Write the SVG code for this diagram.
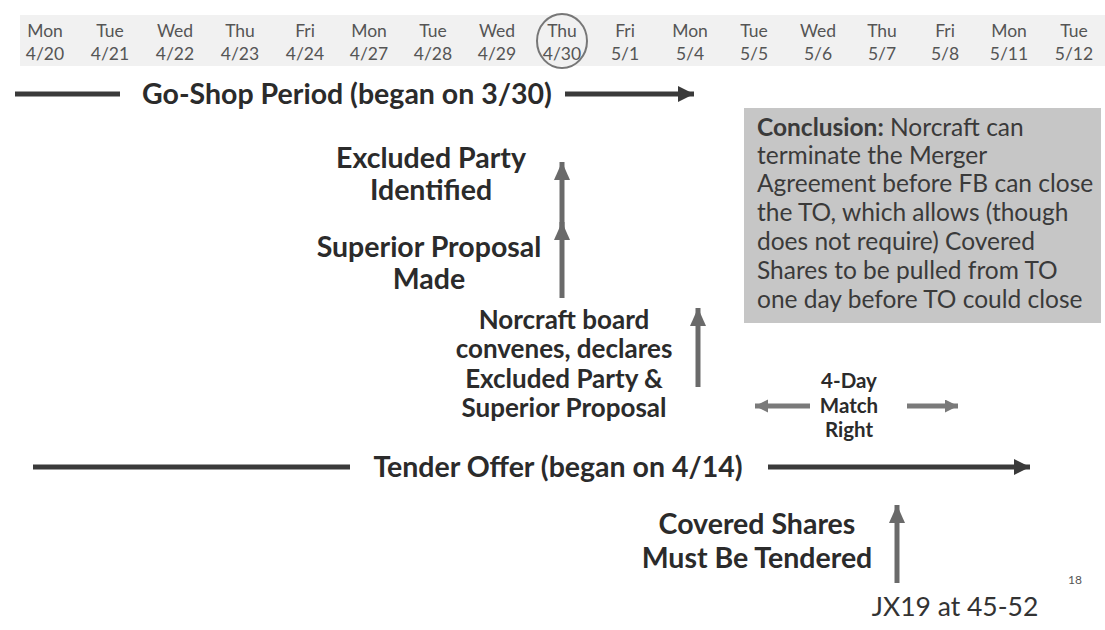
<svg xmlns="http://www.w3.org/2000/svg" width="1105" height="630" viewBox="0 0 1105 630">
<style>
.day{font-family:Lato,"Liberation Sans",sans-serif;font-size:17.5px;fill:#555;text-anchor:middle}
.lbl{font-family:Lato,"Liberation Sans",sans-serif;font-weight:bold;fill:#2b2b2b;text-anchor:middle}
.big{font-size:28.5px}
.mid{font-size:26px}
.sm{font-size:20.5px}
.concl{font-family:Lato,"Liberation Sans",sans-serif;font-size:24.5px;fill:#3a3a3a}
.tl{stroke:#3a3a3a;stroke-width:5;fill:none}
.va{stroke:#6a6a6a;stroke-width:5;fill:none}
.ha{stroke:#7a7a7a;stroke-width:5;fill:none}
</style>
<defs>
<marker id="hdDark" markerUnits="userSpaceOnUse" markerWidth="20" markerHeight="20" refX="16" refY="8" orient="auto"><path d="M0,0 L16,8 L0,16 Z" fill="#3a3a3a"/></marker>
<marker id="hdGray" markerUnits="userSpaceOnUse" markerWidth="20" markerHeight="20" refX="18" refY="8" orient="auto"><path d="M0,0 L18,8 L0,16 Z" fill="#6a6a6a"/></marker>
<marker id="hdLight" markerUnits="userSpaceOnUse" markerWidth="16" markerHeight="16" refX="13" refY="6.5" orient="auto"><path d="M0,0 L13,6.5 L0,13 Z" fill="#7a7a7a"/></marker>
</defs>
<rect width="1105" height="630" fill="#fff"/>
<g id="calendar">
<rect x="20" y="15" width="1085" height="51" fill="#f1f1f1"/>
<g class="day">
<text x="45" y="37">Mon</text><text x="45" y="60">4/20</text>
<text x="110" y="37">Tue</text><text x="110" y="60">4/21</text>
<text x="175" y="37">Wed</text><text x="175" y="60">4/22</text>
<text x="240" y="37">Thu</text><text x="240" y="60">4/23</text>
<text x="305" y="37">Fri</text><text x="305" y="60">4/24</text>
<text x="369" y="37">Mon</text><text x="369" y="60">4/27</text>
<text x="433" y="37">Tue</text><text x="433" y="60">4/28</text>
<text x="497" y="37">Wed</text><text x="497" y="60">4/29</text>
<text x="562" y="37">Thu</text><text x="562" y="60">4/30</text>
<text x="625" y="37">Fri</text><text x="625" y="60">5/1</text>
<text x="690" y="37">Mon</text><text x="690" y="60">5/4</text>
<text x="754" y="37">Tue</text><text x="754" y="60">5/5</text>
<text x="818" y="37">Wed</text><text x="818" y="60">5/6</text>
<text x="882" y="37">Thu</text><text x="882" y="60">5/7</text>
<text x="945" y="37">Fri</text><text x="945" y="60">5/8</text>
<text x="1009" y="37">Mon</text><text x="1009" y="60">5/11</text>
<text x="1074" y="37">Tue</text><text x="1074" y="60">5/12</text>
</g>
<ellipse cx="562" cy="41" rx="25" ry="27" fill="none" stroke="#777" stroke-width="2"/>
</g>
<g id="connectors">
<line class="tl" x1="15" y1="94" x2="120" y2="94"/>
<line class="tl" x1="565" y1="94" x2="694" y2="94" marker-end="url(#hdDark)"/>
<line class="tl" x1="33" y1="467" x2="350" y2="467"/>
<line class="tl" x1="768" y1="467" x2="1030" y2="467" marker-end="url(#hdDark)"/>
<line class="va" x1="562" y1="238" x2="562" y2="162" marker-end="url(#hdGray)"/>
<line class="va" x1="562" y1="298" x2="562" y2="222" marker-end="url(#hdGray)"/>
<line class="va" x1="698" y1="387" x2="698" y2="308" marker-end="url(#hdGray)"/>
<line class="va" x1="897" y1="583" x2="897" y2="505" marker-end="url(#hdGray)"/>
<line class="ha" x1="810" y1="406" x2="755" y2="406" marker-end="url(#hdLight)"/>
<line class="ha" x1="907" y1="406" x2="958" y2="406" marker-end="url(#hdLight)"/>
</g>
<g id="go-shop"><text class="lbl big" x="347" y="104">Go-Shop Period (began on 3/30)</text></g>
<g id="tender-offer"><text class="lbl big" x="558" y="477">Tender Offer (began on 4/14)</text></g>
<g id="excluded-party"><text class="lbl big" x="431" y="168">Excluded Party</text><text class="lbl big" x="431" y="200">Identified</text></g>
<g id="superior-proposal"><text class="lbl big" x="429" y="257">Superior Proposal</text><text class="lbl big" x="429" y="289">Made</text></g>
<g id="board"><text class="lbl mid" x="564" y="329">Norcraft board</text><text class="lbl mid" x="564" y="358">convenes, declares</text><text class="lbl mid" x="564" y="388">Excluded Party &amp;</text><text class="lbl mid" x="564" y="417">Superior Proposal</text></g>
<g id="match-right"><text class="lbl sm" x="849" y="388">4-Day</text><text class="lbl sm" x="849" y="413">Match</text><text class="lbl sm" x="849" y="437">Right</text></g>
<g id="covered-shares"><text class="lbl big" x="757" y="534">Covered Shares</text><text class="lbl big" x="757" y="568">Must Be Tendered</text></g>
<g id="conclusion">
<rect x="744" y="108" width="357" height="215" fill="#c6c6c6"/>
<text class="concl" x="757" y="136"><tspan font-weight="bold">Conclusion:</tspan> Norcraft can</text>
<text class="concl" x="757" y="164">terminate the Merger</text>
<text class="concl" x="757" y="192">Agreement before FB can close</text>
<text class="concl" x="757" y="221">the TO, which allows (though</text>
<text class="concl" x="757" y="250">does not require) Covered</text>
<text class="concl" x="757" y="279">Shares to be pulled from TO</text>
<text class="concl" x="757" y="308">one day before TO could close</text>
</g>
<g id="footer">
<text x="955" y="616" font-family="Lato,'Liberation Sans',sans-serif" font-size="26.5" fill="#333" text-anchor="middle">JX19 at 45-52</text>
<text x="1075" y="584" font-family="Lato,'Liberation Sans',sans-serif" font-size="12" fill="#555" text-anchor="middle">18</text>
</g>
</svg>
